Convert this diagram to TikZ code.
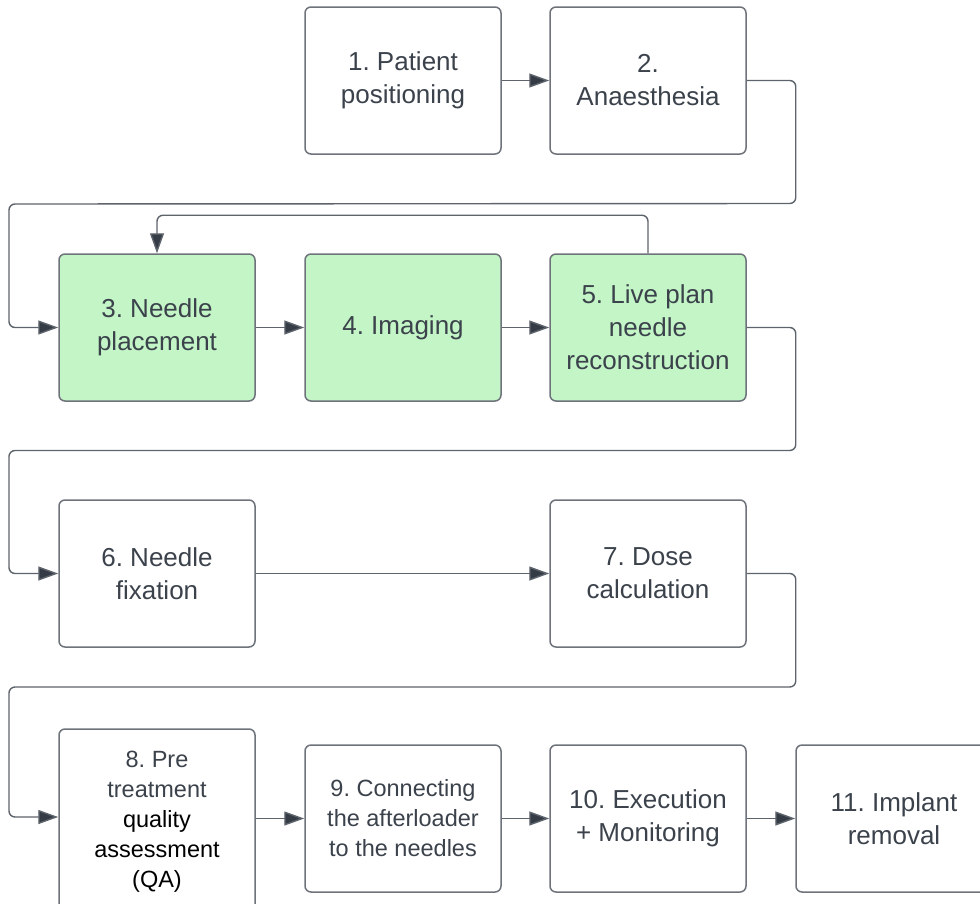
\documentclass[tikz,border=0pt]{standalone}
\usepackage{fontspec}
\setmainfont{Liberation Sans}
\usetikzlibrary{arrows.meta}
\frenchspacing
\definecolor{txt}{HTML}{3B424B}
\definecolor{edge}{HTML}{6E737B}
\definecolor{wire}{HTML}{5E646C}
\definecolor{tip}{HTML}{363C46}
\definecolor{mint}{HTML}{C3F5C6}
\tikzset{
  stage/.style={draw=edge, line width=1.5pt, rounded corners=6pt, fill=white,
    minimum width=196pt, minimum height=147pt, align=center, text=txt,
    inner sep=0pt, font=\fontsize{26}{33}\selectfont},
  active/.style={stage, fill=mint},
  small/.style={font=\fontsize{23.5}{30}\selectfont},
  conn/.style={draw=wire, line width=1.4pt, rounded corners=6pt,
    -{Triangle[length=20pt,width=14pt,fill=tip]}}
}
\begin{document}
\begin{tikzpicture}[x=1pt,y=-1pt]
\useasboundingbox (0,0) rectangle (980,903);
\clip (0,0) rectangle (980,903);
% row 1
\node[stage] (n1) at (403,80.5) {1. Patient\\positioning};
\node[stage] (n2) at (648,80.5) {2.\\Anaesthesia};
% row 2: live planning loop
\node[active] (n3) at (157,327.5) {3. Needle\\placement};
\node[active] (n4) at (403,327.5) {4. Imaging};
\node[active] (n5) at (648,327.5) {5. Live plan\\needle\\reconstruction};
% row 3
\node[stage] (n6) at (157,573.5) {6. Needle\\fixation};
\node[stage] (n7) at (648,573.5) {7. Dose\\calculation};
% row 4
\node[stage, small, minimum height=186pt] (n8) at (157,822)
  {8. Pre\\treatment\\\textcolor{black}{quality}\\\textcolor{black}{assessment}\\\textcolor{black}{(QA)}};
\node[stage, small] (n9) at (403,818.5) {9. Connecting\\the afterloader\\to the needles};
\node[stage] (n10) at (648,818.5) {10. Execution\\+ Monitoring};
\node[stage] (n11) at (894,818.5) {11. Implant\\removal};
% connectors
\draw[conn] (n1) -- (n2);
\draw[conn] (n2.east) -- ++(49,0) -- ++(0,123) -- (9,204) |- (n3.west);
\draw[conn] (n3) -- (n4);
\draw[conn] (n4) -- (n5);
\draw[conn] (n5.north) -- ++(0,-38) -| (n3.north);
\draw[conn] (n5.east) -- ++(49,0) -- ++(0,123) -- (9,450.5) |- (n6.west);
\draw[conn] (n6) -- (n7);
\draw[conn] (n7.east) -- ++(49,0) -- ++(0,113.5) -- (9,687) -- (9,817) -- (n8.west |- 0,817);
\draw[conn] (n8.east |- n9) -- (n9.west);
\draw[conn] (n9) -- (n10);
\draw[conn] (n10) -- (n11);
\end{tikzpicture}
\end{document}
